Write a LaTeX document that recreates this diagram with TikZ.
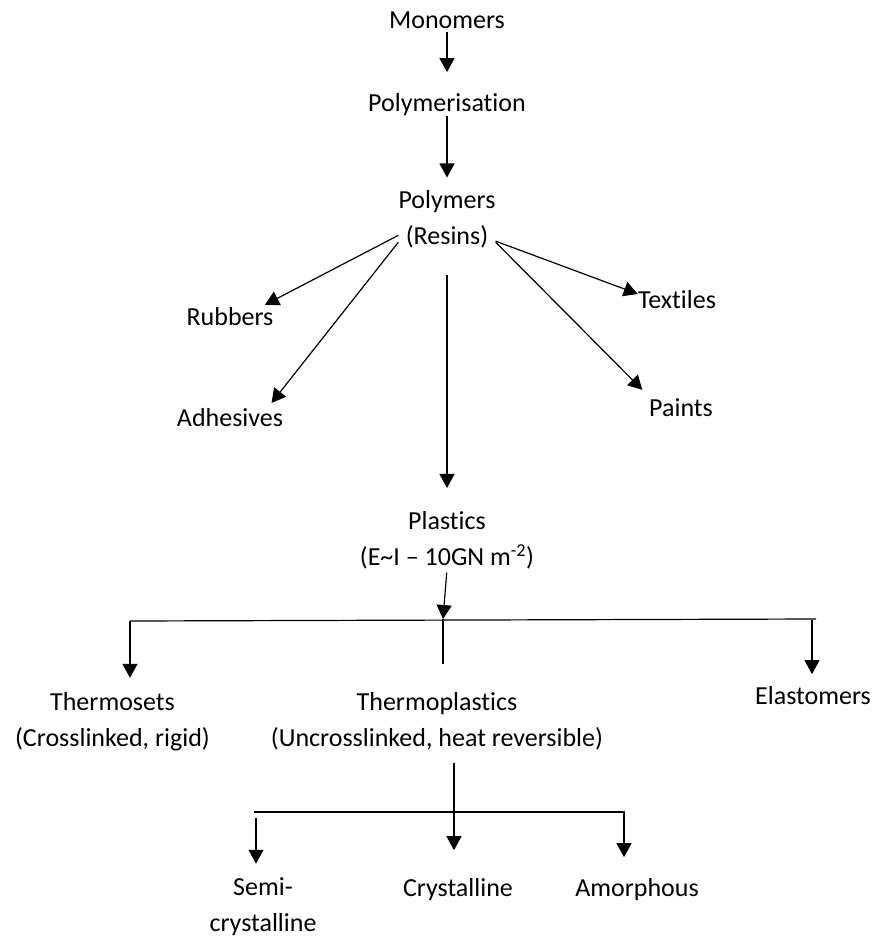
\documentclass[tikz,border=0pt]{standalone}
\usepackage{fontspec}
\setmainfont{Carlito}[Ligatures=NoCommon]
\usetikzlibrary{arrows.meta}
\usetikzlibrary{calc}
\tikzstyle{terme}=[inner sep=0pt,align=center,font=\fontsize{26}{36}\selectfont]
\tikzstyle{suite}=[-{Triangle[length=14pt,width=15pt]},line width=1.2pt]
\tikzstyle{trait}=[line width=1.2pt]

\begin{document}
\begin{tikzpicture}[x=1pt,y=-1pt]
\useasboundingbox (0,0) rectangle (874,938);
\node[terme,anchor=base] (mono) at (447,28.4) {Monomers};
\node[terme,anchor=base] (polym) at (447,111.4) {Polymerisation};
\node[terme] (poly) at (447,219.5) {Polymers\\(Resins)};
\node[terme,anchor=base] (rub) at (230,325.4) {Rubbers};
\node[terme,anchor=base] (adh) at (230,426.4) {Adhesives};
\node[terme,anchor=base] (tex) at (677,308.4) {Textiles};
\node[terme,anchor=base] (pai) at (681,416.4) {Paints};
\node[terme] (pla) at (447,540) {Plastics\\(E\textasciitilde I – 10GN m\textsuperscript{-2})};
\node[terme] (tset) at (112.5,721.3) {Thermosets\\(Crosslinked, rigid)};
\node[terme] (tplas) at (437,721) {Thermoplastics\\(Uncrosslinked, heat reversible)};
\node[terme,anchor=base] (elas) at (813,704.4) {Elastomers};
\node[terme] (semi) at (263,907) {Semi-\\crystalline};
\node[terme,anchor=base] (cry) at (458,896.4) {Crystalline};
\node[terme,anchor=base] (amo) at (637,896.4) {Amorphous};
%Junctions
\coordinate (jp) at (443,619);
\coordinate (bl) at (130,621);
\coordinate (br) at (816,619);
\coordinate (bd) at (812,620);
\coordinate (js) at (443,664);
\coordinate (tj) at (454,812);
\coordinate (sl) at (254,812);
\coordinate (sr) at (625,812);
\coordinate (sd) at (256,818);
\coordinate (ad) at (624,812);
%Drawing Edges
\draw[suite,shorten <=3.6pt,shorten >=21pt] (mono) -- (polym);
\draw[suite,shorten >=13pt] (polym) -- (poly);
\draw[suite,shorten >=5pt] (poly.198) -- (rub.17);
\draw[suite,shorten >=6.6pt] (poly.205) -- (adh.14);
\draw[suite] (poly.336) -- (tex.172);
\draw[suite,shorten >=12pt] (poly.335) -- (pai.163);
\draw[suite,shorten <=26.6pt,shorten >=23pt] (poly) -- (pla);
\draw[suite,shorten <=3.6pt] (pla.south) -- (jp);
\draw[trait] (bl) -- (br);
\draw[suite,shorten >=14pt] (bl) -- (bl |- tset.north);
\draw[trait] (jp) -- (js);
\draw[suite,shorten >=12pt] (bd) -- (bd |- elas.north);
\draw[suite,shorten <=12.6pt,shorten >=28pt] (tplas.south -| tj) -- (tj |- cry.north);
\draw[trait] (sl) -- (sr);
\draw[suite,shorten >=14pt] (sd) -- (sd |- semi.north);
\draw[suite,shorten >=21pt] (ad) -- (ad |- amo.north);
\end{tikzpicture}
\end{document}
